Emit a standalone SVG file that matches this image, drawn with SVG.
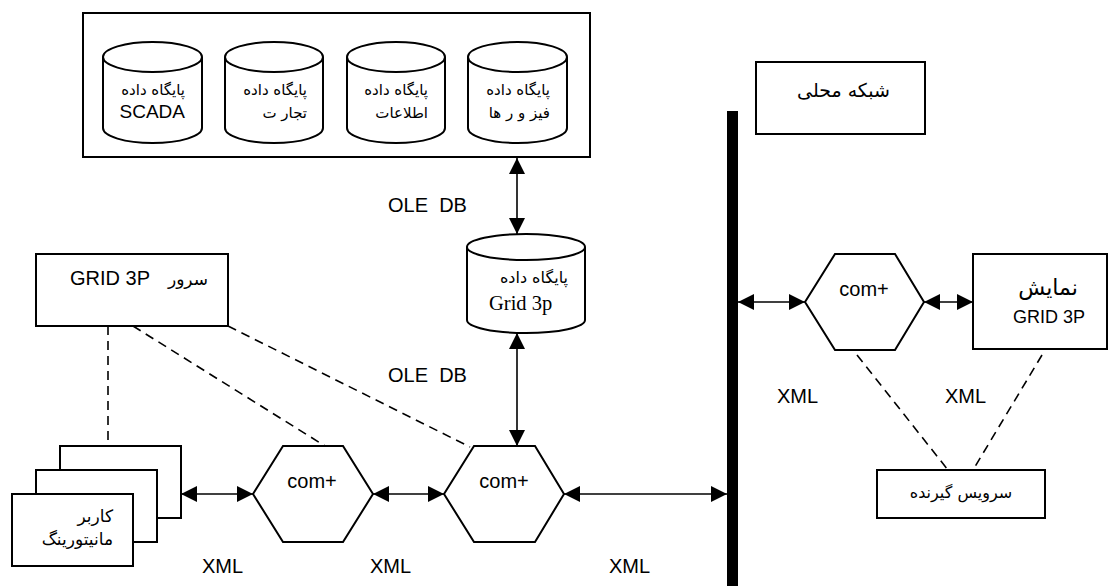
<svg xmlns="http://www.w3.org/2000/svg" width="1109" height="586" viewBox="0 0 1109 586">
  <style>
    .box { fill: #fff; stroke: #000; stroke-width: 2; }
    .ln { fill: none; stroke: #000; stroke-width: 1.6; }
    .dash { fill: none; stroke: #000; stroke-width: 1.6; stroke-dasharray: 9 6; }
    .t { font-family: "Liberation Sans", "DejaVu Sans", sans-serif; fill: #000; white-space: pre; }
    .fa { font-family: "DejaVu Sans", "Liberation Sans", sans-serif; fill: #000; }
    .serif { font-family: "Liberation Serif", serif; fill: #000; }
  </style>
  <defs>
    <marker id="arr" markerUnits="userSpaceOnUse" markerWidth="16" markerHeight="16" refX="16" refY="8" orient="auto-start-reverse">
      <path d="M0,0 L16,8 L0,16 z" fill="#000"/>
    </marker>
  </defs>
  <rect width="1109" height="586" fill="#fff"/>

  <!-- connectors -->
  <g id="connectors">
    <line class="ln" x1="517" y1="158" x2="517" y2="234" marker-start="url(#arr)" marker-end="url(#arr)"/>
    <line class="ln" x1="517" y1="333" x2="517" y2="446" marker-start="url(#arr)" marker-end="url(#arr)"/>
    <line class="ln" x1="181" y1="494" x2="253" y2="494" marker-start="url(#arr)" marker-end="url(#arr)"/>
    <line class="ln" x1="373" y1="494" x2="444" y2="494" marker-start="url(#arr)" marker-end="url(#arr)"/>
    <line class="ln" x1="564" y1="494" x2="727" y2="494" marker-start="url(#arr)" marker-end="url(#arr)"/>
    <line class="ln" x1="738" y1="302" x2="805" y2="302" marker-start="url(#arr)" marker-end="url(#arr)"/>
    <line class="ln" x1="924" y1="302" x2="973" y2="302" marker-start="url(#arr)" marker-end="url(#arr)"/>
    <line class="dash" x1="108" y1="326" x2="108" y2="446"/>
    <line class="dash" x1="133" y1="326" x2="325" y2="446"/>
    <line class="dash" x1="228" y1="326" x2="470" y2="447"/>
    <line class="dash" x1="857" y1="355" x2="948" y2="470"/>
    <line class="dash" x1="1042" y1="355" x2="973" y2="470"/>
  </g>

  <!-- database group -->
  <g id="databases">
    <rect class="box" x="83" y="13" width="507" height="144"/>
    <g id="db-scada">
      <path class="box" d="M103,57 V128 A49.5,15 0 0 0 202,128 V57"/>
      <ellipse class="box" cx="152.5" cy="57" rx="49.5" ry="15"/>
      <text class="fa" x="185" y="95" font-size="15" text-anchor="end">پایگاه داده</text>
      <text class="t" x="185" y="118" font-size="19" text-anchor="end">SCADA</text>
    </g>
    <g id="db-trade">
      <path class="box" d="M225,57 V128 A49,15 0 0 0 323,128 V57"/>
      <ellipse class="box" cx="274" cy="57" rx="49" ry="15"/>
      <text class="fa" x="307" y="95" font-size="15" text-anchor="end">پایگاه داده</text>
      <text class="fa" x="307" y="118" font-size="15" text-anchor="end">تجار ت</text>
    </g>
    <g id="db-info">
      <path class="box" d="M347,57 V128 A49,15 0 0 0 445,128 V57"/>
      <ellipse class="box" cx="396" cy="57" rx="49" ry="15"/>
      <text class="fa" x="428" y="95" font-size="15" text-anchor="end">پایگاه داده</text>
      <text class="fa" x="428" y="118" font-size="15" text-anchor="end">اطلاعات</text>
    </g>
    <g id="db-feeders">
      <path class="box" d="M468,57 V128 A49.5,15 0 0 0 567,128 V57"/>
      <ellipse class="box" cx="517.5" cy="57" rx="49.5" ry="15"/>
      <text class="fa" x="550" y="95" font-size="15" text-anchor="end">پایگاه داده</text>
      <text class="fa" x="550" y="118" font-size="15" text-anchor="end">فیز و ر ها</text>
    </g>
  </g>

  <g id="oledb-labels">
    <text class="t" x="388" y="212" font-size="20" xml:space="preserve">OLE  DB</text>
    <text class="t" x="388" y="382" font-size="20" xml:space="preserve">OLE  DB</text>
  </g>

  <g id="db-grid3p">
    <path class="box" d="M467,247 V320 A59,13 0 0 0 585,320 V247"/>
    <ellipse class="box" cx="526" cy="247" rx="59" ry="13"/>
    <text class="fa" x="568" y="283" font-size="16" text-anchor="end">پایگاه داده</text>
    <text class="serif" x="489" y="310" font-size="20.5">Grid 3p</text>
  </g>

  <g id="server">
    <rect class="box" x="36" y="254" width="192" height="72"/>
    <text class="t" x="70" y="285" font-size="20">GRID 3P</text>
    <text class="fa" x="208" y="285" font-size="17" text-anchor="end">سرور</text>
  </g>

  <g id="monitoring-user">
    <rect class="box" x="60" y="446" width="121" height="72"/>
    <rect class="box" x="36" y="470" width="121" height="72"/>
    <rect class="box" x="12" y="494" width="121" height="72"/>
    <text class="fa" x="113" y="522" font-size="17" text-anchor="end">کاربر</text>
    <text class="fa" x="113" y="545" font-size="17" text-anchor="end">مانیتورینگ</text>
  </g>

  <g id="com1">
    <polygon class="box" points="253,494 283,446 343,446 373,494 343,542 283,542"/>
    <text class="t" x="312" y="488" font-size="20" text-anchor="middle">com+</text>
  </g>
  <g id="com2">
    <polygon class="box" points="444,494 474,446 535,446 564,494 535,542 474,542"/>
    <text class="t" x="504" y="488" font-size="20" text-anchor="middle">com+</text>
  </g>

  <g id="xml-labels">
    <text class="t" x="202" y="573" font-size="20">XML</text>
    <text class="t" x="370" y="573" font-size="20">XML</text>
    <text class="t" x="609" y="573" font-size="20">XML</text>
    <text class="t" x="777" y="403" font-size="20">XML</text>
    <text class="t" x="945" y="403" font-size="20">XML</text>
  </g>

  <g id="lan-bus">
    <rect x="727" y="111" width="11" height="475" fill="#000"/>
  </g>
  <g id="lan-label">
    <rect class="box" x="756" y="62" width="169" height="72"/>
    <text class="fa" x="890" y="97" font-size="19" text-anchor="end">شبکه محلی</text>
  </g>

  <g id="com3">
    <polygon class="box" points="805,302 835,254 895,254 924,302 895,350 835,350"/>
    <text class="t" x="864" y="296" font-size="20" text-anchor="middle">com+</text>
  </g>

  <g id="display">
    <rect class="box" x="973" y="254" width="134" height="95"/>
    <text class="fa" x="1048" y="295" font-size="22" text-anchor="middle">نمایش</text>
    <text class="t" x="1049" y="323" font-size="18" text-anchor="middle">GRID 3P</text>
  </g>

  <g id="client-service">
    <rect class="box" x="877" y="470" width="168" height="48"/>
    <text class="fa" x="961" y="498" font-size="16" text-anchor="middle">سرویس گیرنده</text>
  </g>
</svg>
